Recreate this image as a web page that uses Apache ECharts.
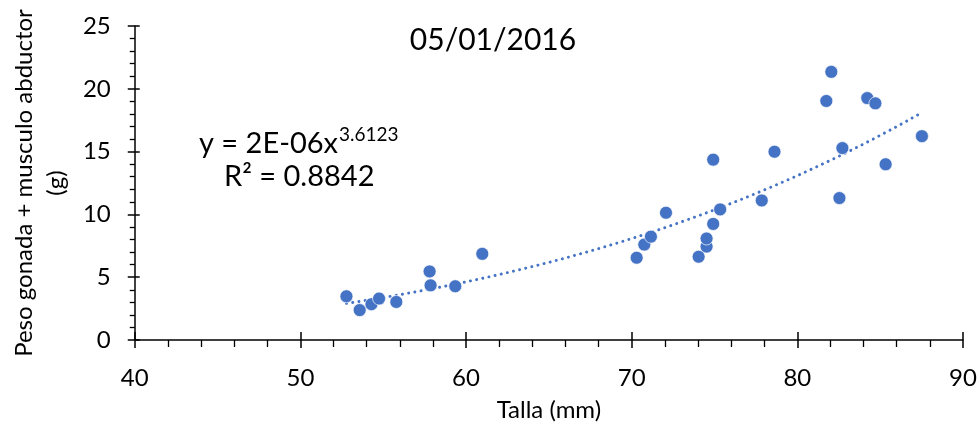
<!DOCTYPE html>
<html>
<head>
<meta charset="utf-8">
<title>Peso gonada + musculo abductor vs Talla</title>
<script src="https://cdn.jsdelivr.net/npm/echarts@6/dist/echarts.min.js"></script>
<style>
  html, body { margin: 0; padding: 0; background: #fff; }
  #chart { width: 980px; height: 433px; }
</style>
</head>
<body>
<div id="chart"></div>
<script>
// Shell length (mm) and gonad + adductor muscle weight (g), sampling of 05/01/2016
const tallaMm = [52.78, 53.58, 54.29, 54.75, 55.79, 57.80, 57.86, 59.35, 60.98,
  70.30, 70.76, 71.16, 72.07, 74.04, 74.52, 74.52, 74.92, 74.92, 75.34, 77.85,
  78.62, 81.75, 82.05, 82.54, 82.72, 84.22, 84.71, 85.33, 87.52];
const pesoG = [3.48, 2.38, 2.85, 3.30, 3.03, 5.46, 4.35, 4.28, 6.86,
  6.55, 7.60, 8.23, 10.13, 6.63, 7.44, 8.08, 9.24, 14.36, 10.40, 11.11,
  14.99, 19.03, 21.35, 11.30, 15.28, 19.26, 18.84, 13.99, 16.23];

// Power trendline y = a·x^b: exponent as reported, coefficient fitted in log space
const trendExponent = 3.6123;
const equationMain = 'y = 2E-06x';
const equationPower = '3.6123';
const equationR2 = 'R² = 0.8842';
const chartTitle = '05/01/2016';

const xTicks = { min: 40, max: 90, interval: 10 };
const yTicks = { min: 0, max: 25, interval: 5 };

const points = tallaMm.map((x, i) => [x, pesoG[i]]);

function fitPowerCoefficient(xs, ys, b) {
  let s = 0;
  for (let i = 0; i < xs.length; i++) s += Math.log(ys[i]) - b * Math.log(xs[i]);
  return Math.exp(s / xs.length);
}
const trendCoef = fitPowerCoefficient(tallaMm, pesoG, trendExponent);
const xLo = Math.min(...tallaMm), xHi = Math.max(...tallaMm);
const trendPoints = [];
for (let k = 0; k <= 80; k++) {
  const x = xLo + (xHi - xLo) * k / 80;
  trendPoints.push([x, trendCoef * Math.pow(x, trendExponent)]);
}

const FONT = 'Lato';
const BLUE = '#4472C4';
const AXIS = '#000';

const chart = echarts.init(document.getElementById('chart'), null, { renderer: 'canvas' });

const baseX = {
  type: 'value', min: xTicks.min, max: xTicks.max, interval: xTicks.interval,
  splitLine: { show: false }
};
const baseY = {
  type: 'value', min: yTicks.min, max: yTicks.max, interval: yTicks.interval,
  splitLine: { show: false }
};

chart.setOption({
  animation: false,
  backgroundColor: '#fff',
  textStyle: { fontFamily: FONT },
  title: {
    text: chartTitle,
    left: 488, top: 20, textAlign: 'center',
    textStyle: { fontFamily: FONT, fontSize: 30, fontWeight: 'normal', color: '#000' }
  },
  grid: { left: 133, right: 17, top: 26, bottom: 93, containLabel: false },
  xAxis: [
    Object.assign({}, baseX, {
      name: 'Talla (mm)', nameLocation: 'middle', nameGap: 58,
      nameTextStyle: { fontFamily: FONT, fontSize: 24, color: '#000' },
      axisLine: { show: true, onZero: false, lineStyle: { color: AXIS, width: 1.5 } },
      axisTick: { show: true, inside: false, length: 8, lineStyle: { color: AXIS, width: 1.5 } },
      minorTick: { show: true, splitNumber: 5, length: 7, lineStyle: { color: AXIS, width: 1.3 } },
      axisLabel: { fontFamily: FONT, fontSize: 24, color: '#000', margin: 26 }
    }),
    Object.assign({}, baseX, {
      position: 'bottom',
      axisLine: { show: false, onZero: false },
      axisTick: { show: true, inside: true, length: 8, lineStyle: { color: AXIS, width: 1.5 } },
      axisLabel: { show: false }
    })
  ],
  yAxis: [
    Object.assign({}, baseY, {
      name: 'Peso gonada + musculo abductor\n(g)', nameLocation: 'middle', nameGap: 60,
      nameTextStyle: { fontFamily: FONT, fontSize: 24, color: '#000', lineHeight: 32, align: 'center' },
      axisLine: { show: true, onZero: false, lineStyle: { color: AXIS, width: 1.5 } },
      axisTick: { show: true, inside: false, length: 7, lineStyle: { color: AXIS, width: 1.5 } },
      minorTick: { show: true, splitNumber: 5, length: 5, lineStyle: { color: AXIS, width: 1.3 } },
      axisLabel: { fontFamily: FONT, fontSize: 24, color: '#000', margin: 24 }
    }),
    Object.assign({}, baseY, {
      position: 'left',
      axisLine: { show: false, onZero: false },
      axisTick: { show: true, inside: true, length: 5, lineStyle: { color: AXIS, width: 1.5 } },
      axisLabel: { show: false }
    })
  ],
  series: [
    {
      name: 'Tendencia', type: 'line', data: trendPoints,
      showSymbol: false, symbol: 'none', silent: true, z: 2,
      lineStyle: { color: BLUE, width: 2.9, type: [0.1, 6.2], cap: 'round' }
    },
    {
      name: 'Peso', type: 'scatter', data: points, z: 3,
      symbol: 'circle', symbolSize: 13,
      itemStyle: { color: BLUE, borderColor: 'rgba(255,255,255,0.85)', borderWidth: 0.8, opacity: 1 }
    }
  ],
  graphic: [
    {
      type: 'text', left: 199, top: 123, z: 10,
      style: {
        text: '{m|' + equationMain + '}{s|' + equationPower + '}',
        rich: {
          m: { fontFamily: FONT, fontSize: 29, color: '#000', lineHeight: 35, verticalAlign: 'bottom' },
          s: { fontFamily: FONT, fontSize: 19, color: '#000', lineHeight: 35, verticalAlign: 'top', padding: [2, 0, 0, 1] }
        }
      }
    },
    {
      type: 'text', left: 224, top: 162, z: 10,
      style: { text: equationR2, fontFamily: FONT, fontSize: 29, fill: '#000' }
    }
  ]
});
</script>
</body>
</html>
